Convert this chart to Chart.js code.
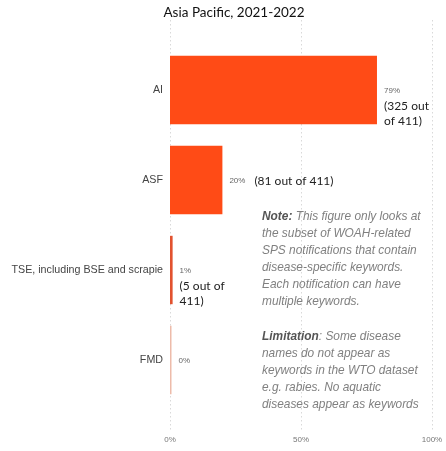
<!DOCTYPE html>
<html>
<head>
<meta charset="utf-8">
<title>Asia Pacific, 2021-2022</title>
<script src="https://cdn.jsdelivr.net/npm/chart.js@4/dist/chart.umd.min.js"></script>
<style>
  html, body { margin: 0; padding: 0; background: #fff; }
  canvas { display: block; }
</style>
</head>
<body>
<canvas id="diseaseChart" width="446" height="451"></canvas>
<script>
const chartTitle = "Asia Pacific, 2021-2022";
const diseases = ["AI", "ASF", "TSE, including BSE and scrapie", "FMD"];
const sharePct = [79, 20, 1, 0];
const pctLabels = ["79%", "20%", "1%", "0%"];
// count text per bar; inline ones sit next to the % label, others stack below it
const countLabels = [["(325 out", "of 411)"], ["(81 out of 411)"], ["(5 out of", "411)"], []];
const countInline = [false, true, false, false];
const barColors = ["#FF4B16", "#FF4B16", "#E2522F", "#EDBBAA"];
const xTicks = [0, 50, 100];

const noteLines = [
  "This figure only looks at",
  "the subset of WOAH-related",
  "SPS notifications that contain",
  "disease-specific keywords.",
  "Each notification can have",
  "multiple keywords."
];
const limitLines = [
  ": Some disease",
  "names do not appear as",
  "keywords in the WTO dataset",
  "e.g. rabies. No aquatic",
  "diseases appear as keywords"
];

const SANS = "'Liberation Sans', Arial, sans-serif";
const CAL = "Lato, 'Open Sans', sans-serif";
const NOTE_FONT = "11.9px " + SANS;

// title sits a bit right of the canvas centre, over the plot
const titleText = {
  id: "titleText",
  afterDraw(chart) {
    const ctx = chart.ctx;
    ctx.save();
    ctx.font = "13.5px " + CAL;
    ctx.fillStyle = "#111";
    ctx.textAlign = "center";
    ctx.textBaseline = "middle";
    ctx.fillText(chartTitle, 234, 13);
    ctx.restore();
  }
};

// faint dotted vertical gridlines that run past the plot area
const dottedGrid = {
  id: "dottedGrid",
  beforeDatasetsDraw(chart) {
    const x = chart.scales.x;
    const ctx = chart.ctx;
    ctx.save();
    ctx.strokeStyle = "#d9d9d9";
    ctx.lineWidth = 1;
    ctx.setLineDash([1.5, 2.5]);
    xTicks.forEach(v => {
      const px = Math.round(x.getPixelForValue(v)) + 0.5;
      ctx.beginPath();
      ctx.moveTo(px, 20);
      ctx.lineTo(px, 432);
      ctx.stroke();
    });
    ctx.restore();
  }
};

const barLabels = {
  id: "barLabels",
  afterDatasetsDraw(chart) {
    const ctx = chart.ctx;
    const meta = chart.getDatasetMeta(0);
    ctx.save();
    ctx.textBaseline = "middle";
    ctx.textAlign = "left";
    meta.data.forEach((bar, i) => {
      const x = Math.max(bar.x, bar.base) + 7;
      const y = bar.y + 1;
      ctx.font = "8px " + SANS;
      ctx.fillStyle = "#666";
      ctx.fillText(pctLabels[i], x, y);
      const pctW = ctx.measureText(pctLabels[i]).width;
      ctx.font = "12px " + CAL;
      ctx.fillStyle = "#222";
      countLabels[i].forEach((line, j) => {
        if (countInline[i]) {
          ctx.fillText(line, x + pctW + 9, y);
        } else {
          ctx.fillText(line, x, y + 15 * (j + 1));
        }
      });
    });
    ctx.restore();
  }
};

function drawRich(ctx, boldPart, restPart, x, y) {
  ctx.font = "italic bold " + NOTE_FONT;
  ctx.fillStyle = "#555";
  ctx.fillText(boldPart, x, y);
  const w = ctx.measureText(boldPart).width;
  ctx.font = "italic " + NOTE_FONT;
  ctx.fillStyle = "#808080";
  ctx.fillText(restPart, x + w, y);
}

const noteBox = {
  id: "noteBox",
  afterDraw(chart) {
    const ctx = chart.ctx;
    const left = 262;
    ctx.save();
    ctx.textBaseline = "middle";
    ctx.textAlign = "left";
    const block = (lines, head, top, headSep) => {
      lines.forEach((line, i) => {
        const y = top + i * 17;
        if (i === 0) {
          drawRich(ctx, head, headSep + line, left, y);
        } else {
          ctx.font = "italic " + NOTE_FONT;
          ctx.fillStyle = "#808080";
          ctx.fillText(line, left, y);
        }
      });
    };
    block(noteLines, "Note:", 217, " ");
    block(limitLines, "Limitation", 337, "");
    ctx.restore();
  }
};

new Chart(document.getElementById("diseaseChart"), {
  type: "bar",
  data: {
    labels: diseases,
    datasets: [{
      data: sharePct,
      backgroundColor: barColors,
      borderWidth: 0,
      categoryPercentage: 1,
      barPercentage: 0.76,
      minBarLength: 1.5
    }]
  },
  options: {
    indexAxis: "y",
    responsive: false,
    animation: false,
    layout: { padding: { top: 45, right: 14, bottom: 0, left: 0 } },
    plugins: {
      legend: { display: false },
      tooltip: { enabled: false },
      title: { display: false }
    },
    scales: {
      x: {
        min: 0,
        max: 100,
        afterBuildTicks: s => { s.ticks = xTicks.map(v => ({ value: v })); },
        afterFit: s => { s.height = 46; },
        grid: { display: false, drawTicks: true, tickLength: 30 },
        border: { display: false },
        ticks: {
          padding: 0,
          color: "#777",
          font: { family: SANS, size: 8 },
          callback: v => v + "%"
        }
      },
      y: {
        afterFit: s => { s.width = 170; },
        grid: { display: false, drawTicks: false },
        border: { display: false },
        ticks: {
          padding: 7,
          color: "#444",
          font: { family: SANS, size: 10.7 }
        }
      }
    }
  },
  plugins: [dottedGrid, barLabels, noteBox, titleText]
});
</script>
</body>
</html>
